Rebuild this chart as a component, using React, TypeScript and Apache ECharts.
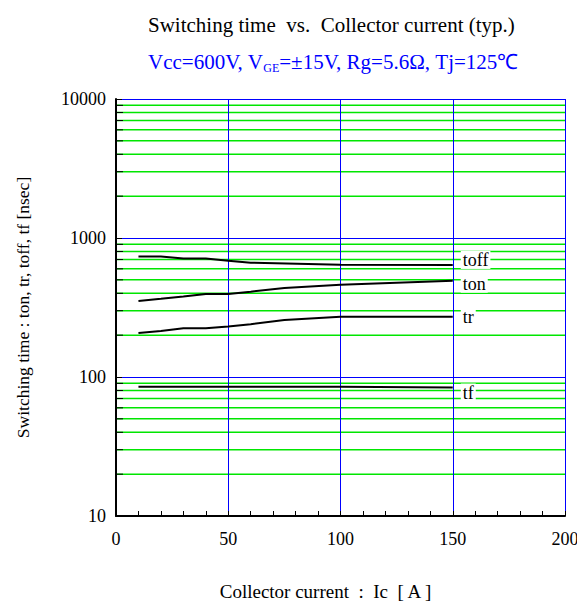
import React, { useEffect, useRef } from "react";
import * as echarts from "echarts";

const icToff = [10, 20, 30, 40, 50, 60, 100, 150];
const toff = [737, 737, 713, 713, 687, 664, 643, 640];
const icTon = [10, 20, 30, 40, 50, 60, 75, 100, 125, 150];
const ton = [352, 365, 380, 396, 396, 411, 437, 461, 477, 493];
const icTr = [10, 20, 30, 40, 50, 60, 75, 100, 150];
const tr = [207, 214, 224, 224, 231, 240, 257, 271, 271];
const icTf = [10, 50, 100, 150];
const tf = [85, 85, 85, 84];
const minorValues = [
  20, 30, 40, 50, 60, 70, 80, 90,
  200, 300, 400, 500, 600, 700, 800, 900,
  2000, 3000, 4000, 5000, 6000, 7000, 8000, 9000,
];

const FONT = "Liberation Serif, Times New Roman, serif";

function pairs(xs: number[], ys: number[]) {
  return xs.map((x, i) => [x, ys[i]]);
}

function curve(name: string, xs: number[], ys: number[], dy: number) {
  return {
    type: "line",
    name,
    data: pairs(xs, ys),
    showSymbol: false,
    symbol: "none",
    lineStyle: { color: "#000", width: 2 },
    z: 5,
    endLabel: {
      show: true,
      formatter: name,
      color: "#000",
      fontFamily: FONT,
      fontSize: 18,
      backgroundColor: "#fff",
      padding: [0, 2],
      distance: 8,
      offset: [0, dy],
    },
  };
}

export default function App() {
  const ref = useRef<HTMLDivElement>(null);
  useEffect(() => {
    if (!ref.current) return;
    const chart = echarts.init(ref.current, null, { renderer: "svg" });
    chart.setOption({
      animation: false,
      backgroundColor: "#fff",
      title: [
        {
          text: "Switching time  vs.  Collector current (typ.)",
          left: 143,
          top: 9,
          textStyle: { fontFamily: FONT, fontSize: 21, fontWeight: "normal", color: "#000" },
        },
        {
          text: "{a|Vcc=600V, V}{s|GE}{a|=±15V, Rg=5.6Ω, Tj=125℃}",
          left: 143,
          top: 45,
          textStyle: {
            fontWeight: "normal",
            rich: {
              a: { fontFamily: FONT, fontSize: 21, fontWeight: "normal", color: "#0000ff" },
              s: { fontFamily: FONT, fontSize: 12, fontWeight: "normal", color: "#0000ff", padding: [12, 0, 0, 0] },
            },
          },
        },
      ],
      grid: { left: 116, right: 20, top: 99, bottom: 90 },
      xAxis: {
        type: "value",
        min: 0,
        max: 200,
        interval: 50,
        name: "Collector current  :  Ic  [ A ]",
        nameLocation: "middle",
        nameGap: 66,
        nameTextStyle: { fontFamily: FONT, fontSize: 19, color: "#000", padding: [0, 30, 0, 0] },
        axisLine: { show: true, lineStyle: { color: "#000", width: 2 } },
        axisTick: { show: true, inside: true, length: 5, lineStyle: { color: "#000" } },
        minorTick: { show: true, splitNumber: 5, length: 5, lineStyle: { color: "#000" } },
        axisLabel: { margin: 14, fontFamily: FONT, fontSize: 18, color: "#000" },
        splitLine: { show: true, lineStyle: { color: "#0000ff", width: 1 } },
      },
      yAxis: {
        type: "log",
        logBase: 10,
        min: 10,
        max: 10000,
        name: "Switching time : ton, tr, toff, tf [nsec]",
        nameLocation: "middle",
        nameGap: 84,
        nameTextStyle: { fontFamily: FONT, fontSize: 17.5, color: "#000" },
        axisLine: { show: true, lineStyle: { color: "#000", width: 2 } },
        axisTick: { show: true, inside: true, length: 6, lineStyle: { color: "#000" } },
        axisLabel: {
          margin: 10,
          fontFamily: FONT,
          fontSize: 18,
          color: "#000",
          formatter: (v: number) => String(Math.round(v)),
        },
        splitLine: { show: true, lineStyle: { color: "#0000ff", width: 1 } },
      },
      series: [
        {
          type: "custom",
          z: -1,
          silent: true,
          data: minorValues.map((v) => [0, v]),
          renderItem: (params: any, api: any) => {
            const v = api.value(1);
            const p0 = api.coord([0, v]);
            const p1 = api.coord([200, v]);
            return {
              type: "group",
              children: [
                {
                  type: "line",
                  shape: { x1: p0[0], y1: p0[1], x2: p1[0], y2: p1[1] },
                  style: { stroke: "#00e600", lineWidth: 1.5 },
                },
                {
                  type: "line",
                  shape: { x1: p0[0], y1: p0[1], x2: p0[0] + 7, y2: p0[1] },
                  style: { stroke: "#000", lineWidth: 1 },
                },
              ],
            };
          },
        },
        curve("toff", icToff, toff, -5),
        curve("ton", icTon, ton, 3),
        curve("tr", icTr, tr, 0),
        curve("tf", icTf, tf, 5),
      ],
    });
    return () => chart.dispose();
  }, []);
  return <div ref={ref} style={{ width: 585, height: 606, marginLeft: -8, marginTop: -8 }} />;
}
